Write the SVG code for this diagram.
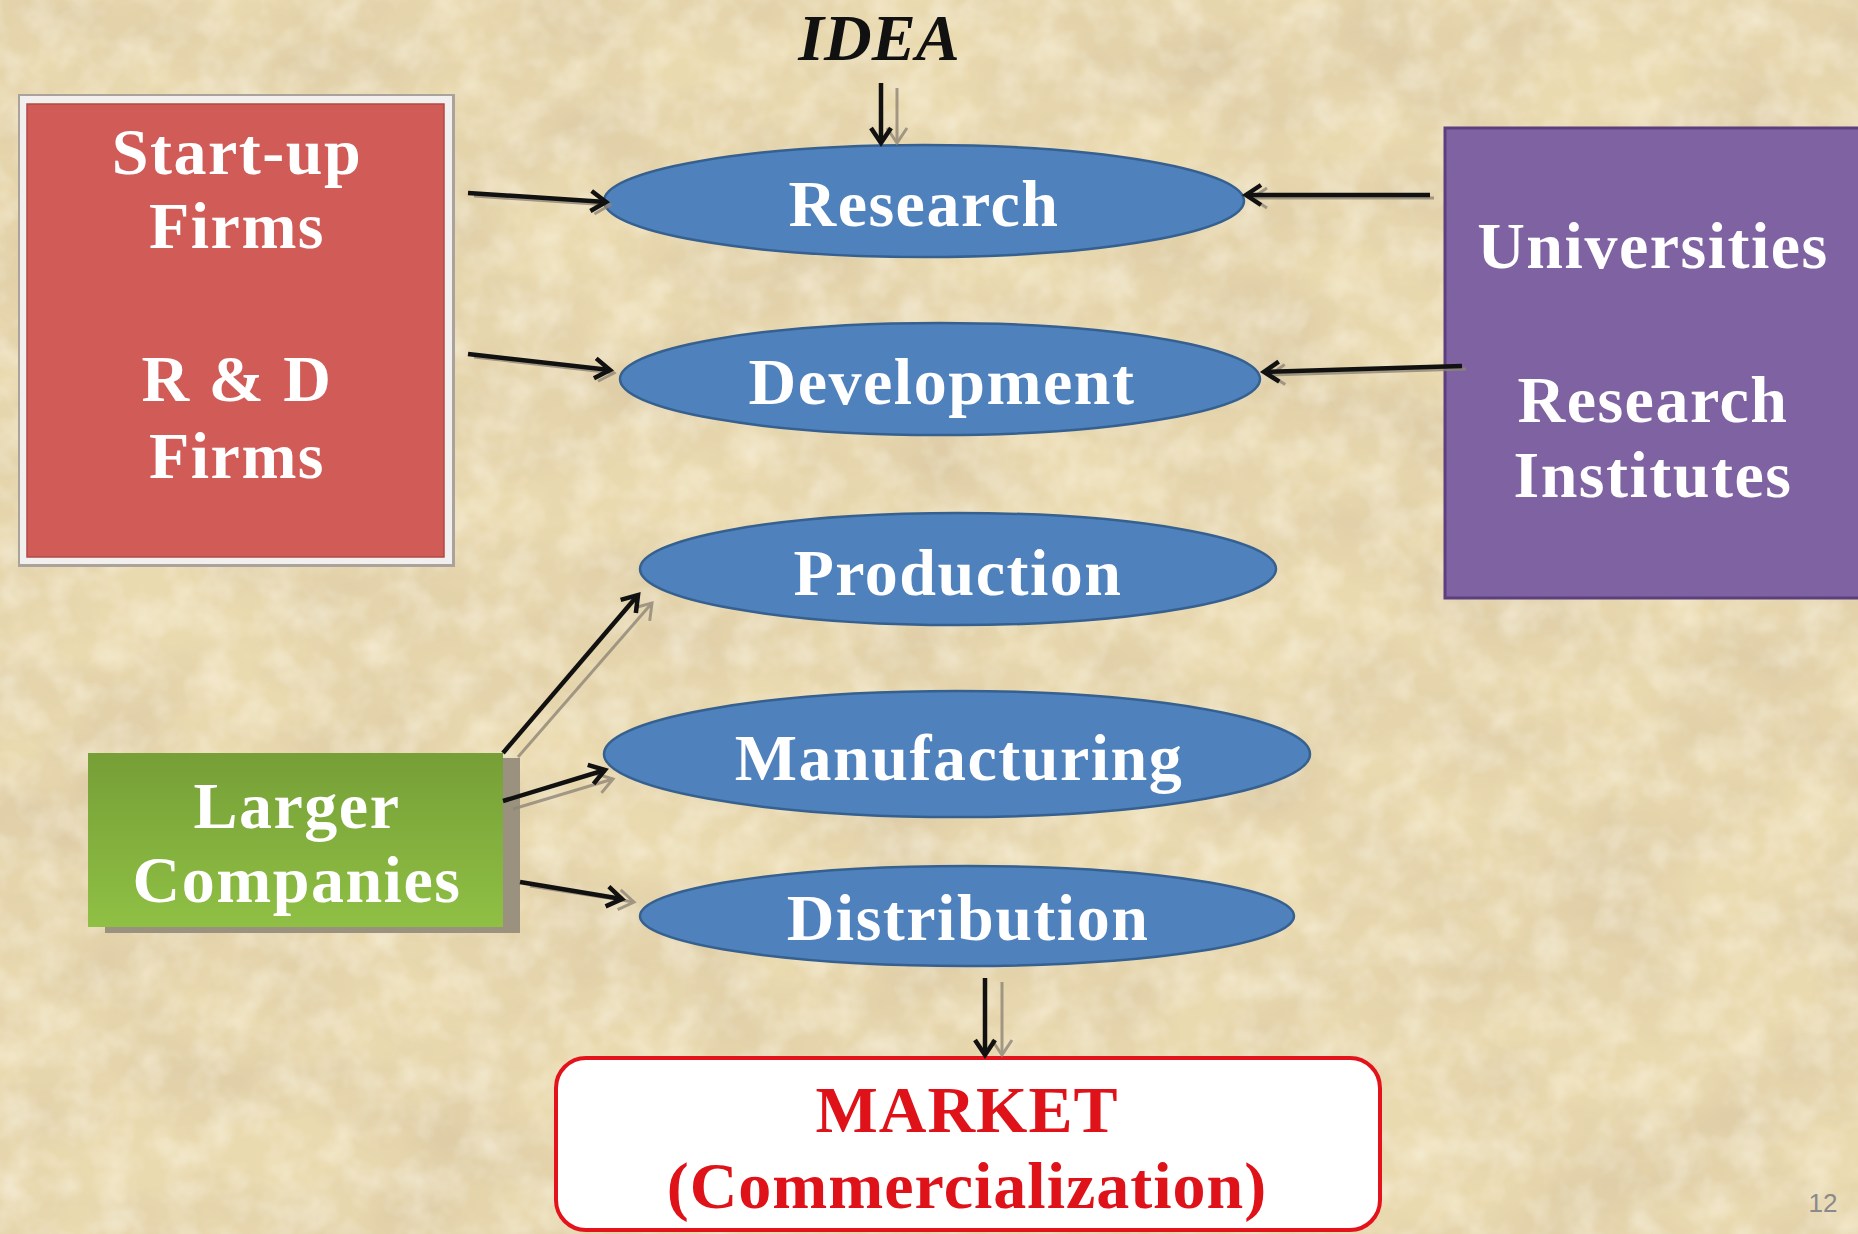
<svg xmlns="http://www.w3.org/2000/svg" width="1858" height="1234" viewBox="0 0 1858 1234">
<style>
.lbl{font-family:"Liberation Serif","Times New Roman",serif;font-weight:bold;font-size:66px;fill:#ffffff;text-anchor:middle;letter-spacing:1.5px}
.ell{fill:#4f81bd;stroke:#35608f;stroke-width:2.5}
.ln{stroke:#111111;stroke-width:4.5;fill:none;marker-end:url(#ah)}
.sh{stroke:#8f8676;stroke-width:3;fill:none;marker-end:url(#ahg);opacity:0.8}
.mk{font-family:"Liberation Serif","Times New Roman",serif;font-weight:bold;font-size:66px;fill:#df1219;text-anchor:middle;letter-spacing:1px}
</style>
<defs>
<filter id="paper" x="0" y="0" width="100%" height="100%" filterUnits="userSpaceOnUse">
<feTurbulence type="fractalNoise" baseFrequency="0.006 0.009" numOctaves="5" seed="7" result="n"/>
<feColorMatrix in="n" type="matrix" values="0 0 0 0 0.62  0 0 0 0 0.5  0 0 0 0 0.32  0.9 0 0 0 -0.3"/>
</filter>
<filter id="paper2" x="0" y="0" width="100%" height="100%" filterUnits="userSpaceOnUse">
<feTurbulence type="fractalNoise" baseFrequency="0.03" numOctaves="3" seed="2" result="n"/>
<feColorMatrix in="n" type="matrix" values="0 0 0 0 1  0 0 0 0 0.98  0 0 0 0 0.9  0 0.8 0 0 -0.3"/>
</filter>
<linearGradient id="grn" x1="0" y1="0" x2="0" y2="1">
<stop offset="0" stop-color="#769f37"/>
<stop offset="1" stop-color="#8fc044"/>
</linearGradient>
<marker id="ah" viewBox="-2 -14 22 28" refX="15" refY="0" markerWidth="22" markerHeight="28" markerUnits="userSpaceOnUse" orient="auto">
<path d="M0,-10 L15,0 L0,10" fill="none" stroke="#111111" stroke-width="4.5" stroke-linejoin="miter"/>
</marker>
<marker id="ahg" viewBox="-2 -14 22 28" refX="15" refY="0" markerWidth="22" markerHeight="28" markerUnits="userSpaceOnUse" orient="auto">
<path d="M0,-10 L15,0 L0,10" fill="none" stroke="#8f8676" stroke-width="3"/>
</marker>
</defs>

<g id="background">
<rect x="0" y="0" width="1858" height="1234" fill="#eadab0"/>
<rect x="0" y="0" width="1858" height="1234" filter="url(#paper)"/>
<rect x="0" y="0" width="1858" height="1234" filter="url(#paper2)"/>
</g>

<g id="idea">
<text x="879" y="60" font-family="Liberation Serif, Times New Roman, serif" font-weight="bold" font-style="italic" font-size="66" fill="#111111" text-anchor="middle">IDEA</text>
</g>

<g id="startup-firms">
<rect x="18" y="94" width="437" height="473" fill="#a9a39b"/>
<rect x="20" y="96" width="432" height="468" fill="#f2f0ee"/>
<rect x="27" y="104" width="417" height="453" fill="#d05b57" stroke="#b04a46" stroke-width="1.5"/>
<text class="lbl" x="237" y="174" fill="#fdf0f0">Start-up</text>
<text class="lbl" x="237" y="248">Firms</text>
<text class="lbl" x="237" y="401">R &amp; D</text>
<text class="lbl" x="237" y="478">Firms</text>
</g>

<g id="universities">
<rect x="1445" y="128" width="420" height="470" fill="#7f62a1" stroke="#5c3f7e" stroke-width="3"/>
<text class="lbl" x="1653" y="268">Universities</text>
<text class="lbl" x="1653" y="422">Research</text>
<text class="lbl" x="1653" y="497">Institutes</text>
</g>

<g id="larger-companies">
<rect x="105" y="758" width="415" height="175" fill="#9a917f"/>
<rect x="88" y="753" width="415" height="174" fill="url(#grn)"/>
<text class="lbl" x="297" y="828">Larger</text>
<text class="lbl" x="297" y="902">Companies</text>
</g>

<g id="research">
<ellipse class="ell" cx="924" cy="201" rx="320" ry="56"/>
<text class="lbl" x="924" y="226">Research</text>
</g>
<g id="development">
<ellipse class="ell" cx="940" cy="379" rx="320" ry="56"/>
<text class="lbl" x="942" y="404">Development</text>
</g>
<g id="production">
<ellipse class="ell" cx="958" cy="569" rx="318" ry="56"/>
<text class="lbl" x="958" y="595">Production</text>
</g>
<g id="manufacturing">
<ellipse class="ell" cx="957" cy="754" rx="353" ry="63"/>
<text class="lbl" x="959" y="780">Manufacturing</text>
</g>
<g id="distribution">
<ellipse class="ell" cx="967" cy="916" rx="327" ry="50"/>
<text class="lbl" x="968" y="940">Distribution</text>
</g>

<g id="market">
<rect x="556" y="1058" width="824" height="172" rx="30" ry="30" fill="#ffffff" stroke="#e3121b" stroke-width="4"/>
<text class="mk" x="967" y="1132">MARKET</text>
<text class="mk" x="967" y="1208">(Commercialization)</text>
</g>

<g id="page-number">
<text x="1823" y="1212" font-family="Liberation Sans, Arial, sans-serif" font-size="26" fill="#8a8a8a" text-anchor="middle">12</text>
</g>

<g id="connectors">
<line class="sh" x1="897" y1="88" x2="897" y2="143"/>
<line class="ln" x1="881" y1="83" x2="881" y2="143"/>

<line class="sh" x1="474" y1="196" x2="610" y2="205"/>
<line class="ln" x1="468" y1="193" x2="606" y2="202"/>

<line class="sh" x1="474" y1="357" x2="614" y2="373"/>
<line class="ln" x1="468" y1="354" x2="610" y2="370"/>

<line class="sh" x1="1434" y1="198" x2="1252" y2="198"/>
<line class="ln" x1="1430" y1="195" x2="1246" y2="195"/>

<line class="sh" x1="1466" y1="369" x2="1270" y2="375"/>
<line class="ln" x1="1462" y1="366" x2="1264" y2="372"/>

<line class="sh" x1="518" y1="757" x2="652" y2="603"/>
<line class="ln" x1="503" y1="753" x2="638" y2="595"/>

<line class="sh" x1="513" y1="809" x2="613" y2="779"/>
<line class="ln" x1="503" y1="801" x2="605" y2="770"/>

<line class="sh" x1="530" y1="886" x2="634" y2="902"/>
<line class="ln" x1="520" y1="882" x2="622" y2="899"/>

<line class="sh" x1="1002" y1="982" x2="1002" y2="1055"/>
<line class="ln" x1="985" y1="978" x2="985" y2="1055"/>
</g>
</svg>
